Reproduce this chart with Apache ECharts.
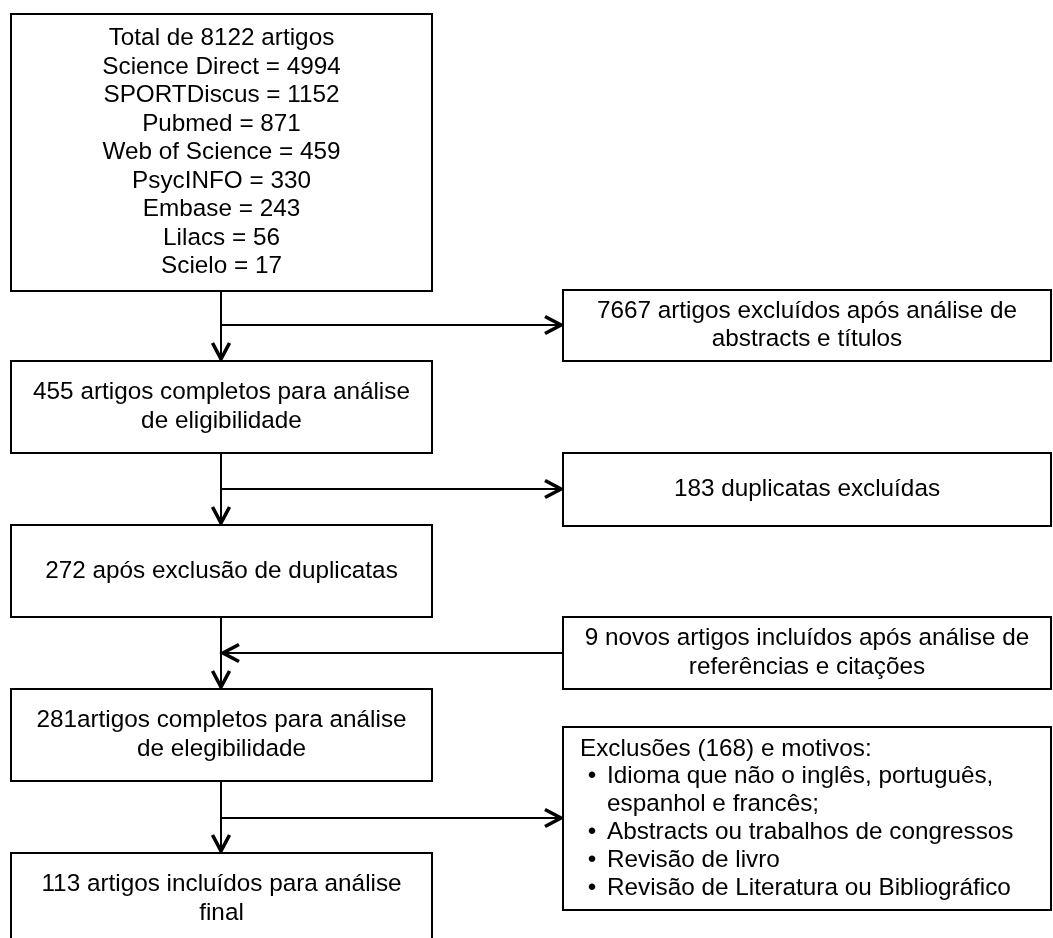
<!DOCTYPE html>
<html>
<head>
<meta charset="utf-8">
<script src="https://cdn.jsdelivr.net/npm/echarts@6/dist/echarts.min.js"></script>
<style>
  html, body { margin: 0; background: #fff; }
  #chart { width: 1053px; height: 938px; }
</style>
</head>
<body>
<div id="chart"></div>
<script>
// flow data
var totalArticles = 8122
var sourceNames = ['Science Direct', 'SPORTDiscus', 'Pubmed', 'Web of Science', 'PsycINFO', 'Embase', 'Lilacs', 'Scielo']
var sourceCounts = [4994, 1152, 871, 459, 330, 243, 56, 17]
var stageTexts = [
  '455 artigos completos para análise\nde eligibilidade',
  '272 após exclusão de duplicatas',
  '281artigos completos para análise\nde elegibilidade',
  '113 artigos incluídos para análise\nfinal'
]
var sideTexts = [
  '7667 artigos excluídos após análise de\nabstracts e títulos',
  '183 duplicatas excluídas',
  '9 novos artigos incluídos após análise de\nreferências e citações'
]
var exclusionTitle = 'Exclusões (168) e motivos:'
var exclusionReasons = [
  ['Idioma que não o inglês, português,', 'espanhol e francês;'],
  ['Abstracts ou trabalhos de congressos'],
  ['Revisão de livro'],
  ['Revisão de Literatura ou Bibliográfico']
]

// layout in pixel units of the hidden axes: [x0, y0, x1, y1]
var mainCol = [11, 432]
var sideCol = [563, 1051]
var mainRows = [[14, 291], [361, 453], [525, 617], [689, 781], [853, 945]]
var sideRows = [[290, 361], [453, 526], [617, 689], [727, 910]]
var flowX = 221

var FONT = '24.3px "Liberation Sans", Arial, sans-serif'
var LINE_H = 28.5

var firstText = ['Total de ' + totalArticles + ' artigos']
sourceNames.forEach(function (n, i) { firstText.push(n + ' = ' + sourceCounts[i]) })

var boxLabels = [firstText.join('\n')].concat(stageTexts, sideTexts, [null])
var boxData = []
mainRows.forEach(function (r) { boxData.push([mainCol[0], r[0], mainCol[1], r[1]]) })
sideRows.forEach(function (r) { boxData.push([sideCol[0], r[0], sideCol[1], r[1]]) })

// connectors: [x0, y0, x1, y1]
var linkData = [
  [flowX, mainRows[0][1], flowX, mainRows[1][0]],
  [flowX, 325, sideCol[0], 325],
  [flowX, mainRows[1][1], flowX, mainRows[2][0]],
  [flowX, 489, sideCol[0], 489],
  [flowX, mainRows[2][1], flowX, mainRows[3][0]],
  [sideCol[0], 653, flowX, 653],
  [flowX, mainRows[3][1], flowX, mainRows[4][0]],
  [flowX, 818, sideCol[0], 818]
]

var myChart = echarts.init(document.getElementById('chart'))

function renderBox (params, api) {
  var p0 = api.coord([api.value(0), api.value(1)])
  var p1 = api.coord([api.value(2), api.value(3)])
  var children = [{
    type: 'rect',
    shape: { x: p0[0], y: p0[1], width: p1[0] - p0[0], height: p1[1] - p0[1] },
    style: { fill: '#fff', stroke: '#000', lineWidth: 2 }
  }]
  var label = boxLabels[params.dataIndex]
  if (label !== null) {
    children.push({
      type: 'text',
      style: {
        text: label,
        x: (p0[0] + p1[0]) / 2,
        y: (p0[1] + p1[1]) / 2,
        align: 'center',
        verticalAlign: 'middle',
        font: FONT,
        lineHeight: LINE_H,
        fill: '#000'
      }
    })
  } else {
    // bullet list box
    var lines = [{ t: exclusionTitle, x: 17 }]
    exclusionReasons.forEach(function (item) {
      item.forEach(function (t, k) {
        lines.push({ t: t, x: 44, bullet: k === 0 })
      })
    })
    var lh = 27.8
    var top = (p0[1] + p1[1]) / 2 - (lines.length - 1) * lh / 2
    lines.forEach(function (ln, i) {
      var y = top + i * lh
      children.push({
        type: 'text',
        style: { text: ln.t, x: p0[0] + ln.x, y: y, align: 'left', verticalAlign: 'middle', font: FONT, fill: '#000' }
      })
      if (ln.bullet) {
        children.push({
          type: 'text',
          style: { text: '•', x: p0[0] + 29, y: y, align: 'center', verticalAlign: 'middle', font: FONT, fill: '#000' }
        })
      }
    })
  }
  return { type: 'group', children: children }
}

function renderLink (params, api) {
  var a = api.coord([api.value(0), api.value(1)])
  var b = api.coord([api.value(2), api.value(3)])
  var dx = b[0] - a[0]
  var dy = b[1] - a[1]
  var len = Math.sqrt(dx * dx + dy * dy)
  var ux = dx / len
  var uy = dy / len
  var hl = 16
  var hw = 8.5
  var tip = [b[0] - ux * 2, b[1] - uy * 2]
  var bx = tip[0] - ux * hl
  var by = tip[1] - uy * hl
  return {
    type: 'group',
    children: [{
      type: 'line',
      shape: { x1: a[0], y1: a[1], x2: b[0], y2: b[1] },
      style: { stroke: '#000', lineWidth: 2 }
    }, {
      type: 'polyline',
      shape: { points: [[bx - uy * hw, by + ux * hw], tip, [bx + uy * hw, by - ux * hw]] },
      style: { stroke: '#000', lineWidth: 3.6, fill: null, lineJoin: 'miter' }
    }]
  }
}

var option = {
  animation: false,
  grid: { left: 0, right: 0, top: 0, bottom: 0 },
  xAxis: { type: 'value', min: 0, max: 1053, show: false },
  yAxis: { type: 'value', min: 0, max: 938, inverse: true, show: false },
  series: [
    { type: 'custom', renderItem: renderLink, data: linkData, clip: false, silent: true },
    { type: 'custom', renderItem: renderBox, data: boxData, clip: false, silent: true }
  ]
}

myChart.setOption(option)
</script>
</body>
</html>
